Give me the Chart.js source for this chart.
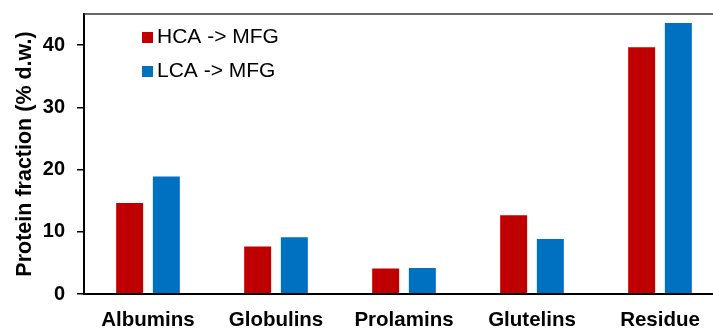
<!DOCTYPE html>
<html>
<head>
<meta charset="utf-8">
<script src="https://cdn.jsdelivr.net/npm/chart.js@4.4.1/dist/chart.umd.min.js"></script>
<style>
  html, body { margin: 0; padding: 0; background: #fff; overflow: hidden; }
  #wrap { width: 740px; height: 331px; }
</style>
</head>
<body>
<div id="wrap"><canvas id="chart"></canvas></div>
<script>
"use strict";

const categories = ["Albumins", "Globulins", "Prolamins", "Glutelins", "Residue"];
const seriesNames = ["HCA -> MFG", "LCA -> MFG"];
const hcaValues = [14.8, 7.8, 4.25, 12.8, 39.8];
const lcaValues = [19.05, 9.3, 4.35, 9.0, 43.7];
const yTicks = [0, 10, 20, 30, 40];

const FONT = "'Liberation Sans', Arial, sans-serif";

// legend drawn inside the plot, top left
const boxLegend = {
  id: "boxLegend",
  afterDraw(chart) {
    const ctx = chart.ctx;
    ctx.save();
    // top frame line
    ctx.strokeStyle = "#333";
    ctx.lineWidth = 1.5;
    ctx.beginPath();
    ctx.moveTo(chart.chartArea.left, chart.chartArea.top);
    ctx.lineTo(chart.chartArea.right, chart.chartArea.top);
    ctx.stroke();

    ctx.font = "21px " + FONT;
    ctx.textBaseline = "middle";
    chart.data.datasets.forEach((ds, i) => {
      const y = 37.5 + i * 34;
      ctx.fillStyle = ds.backgroundColor;
      ctx.fillRect(142, y - 5.5, 11, 11);
      ctx.fillStyle = "#000";
      ctx.fillText(ds.label, 157, y);
    });
    ctx.restore();
  }
};

new Chart(document.getElementById("chart"), {
  type: "bar",
  data: {
    labels: categories,
    datasets: [
      {
        label: seriesNames[0],
        data: hcaValues,
        backgroundColor: "#C00000",
        borderColor: "rgba(255,255,255,0.35)",
        borderWidth: 1,
        borderSkipped: "bottom",
      },
      {
        label: seriesNames[1],
        data: lcaValues,
        backgroundColor: "#0070C0",
        borderColor: "rgba(255,255,255,0.35)",
        borderWidth: 1,
        borderSkipped: "bottom",
      },
    ],
  },
  options: {
    responsive: true,
    maintainAspectRatio: false,
    animation: false,
    layout: { padding: { left: 0, right: 16, top: 14, bottom: 0 } },
    categoryPercentage: 0.573,
    barPercentage: 0.79,
    plugins: {
      legend: { display: false },
      tooltip: { enabled: false },
    },
    scales: {
      x: {
        grid: { display: false, drawTicks: false },
        border: { display: true, color: "#000", width: 2 },
        ticks: {
          color: "#000",
          padding: 14,
          font: { family: FONT, size: 20.5, weight: "bold" },
        },
        afterFit(scale) {
          scale.height = 37;
          scale.paddingLeft = 0;
          scale.paddingRight = 0;
        },
      },
      y: {
        min: 0,
        max: 45,
        afterBuildTicks(scale) { scale.ticks = yTicks.map((v) => ({ value: v })); },
        grid: {
          drawOnChartArea: false,
          drawTicks: true,
          tickLength: 7,
          color: "#000",
          lineWidth: 1.5,
        },
        border: { display: true, color: "#000", width: 2 },
        ticks: {
          color: "#000",
          padding: 12,
          font: { family: FONT, size: 20, weight: "bold" },
        },
        title: {
          display: true,
          text: "Protein fraction (% d.w.)",
          color: "#000",
          padding: { top: 12, bottom: 0 },
          font: { family: FONT, size: 21.5, weight: "bold" },
        },
        afterFit(scale) {
          scale.width = 84;
          scale.paddingTop = 0;
          scale.paddingBottom = 0;
        },
      },
    },
  },
  plugins: [boxLegend],
});
</script>
</body>
</html>
